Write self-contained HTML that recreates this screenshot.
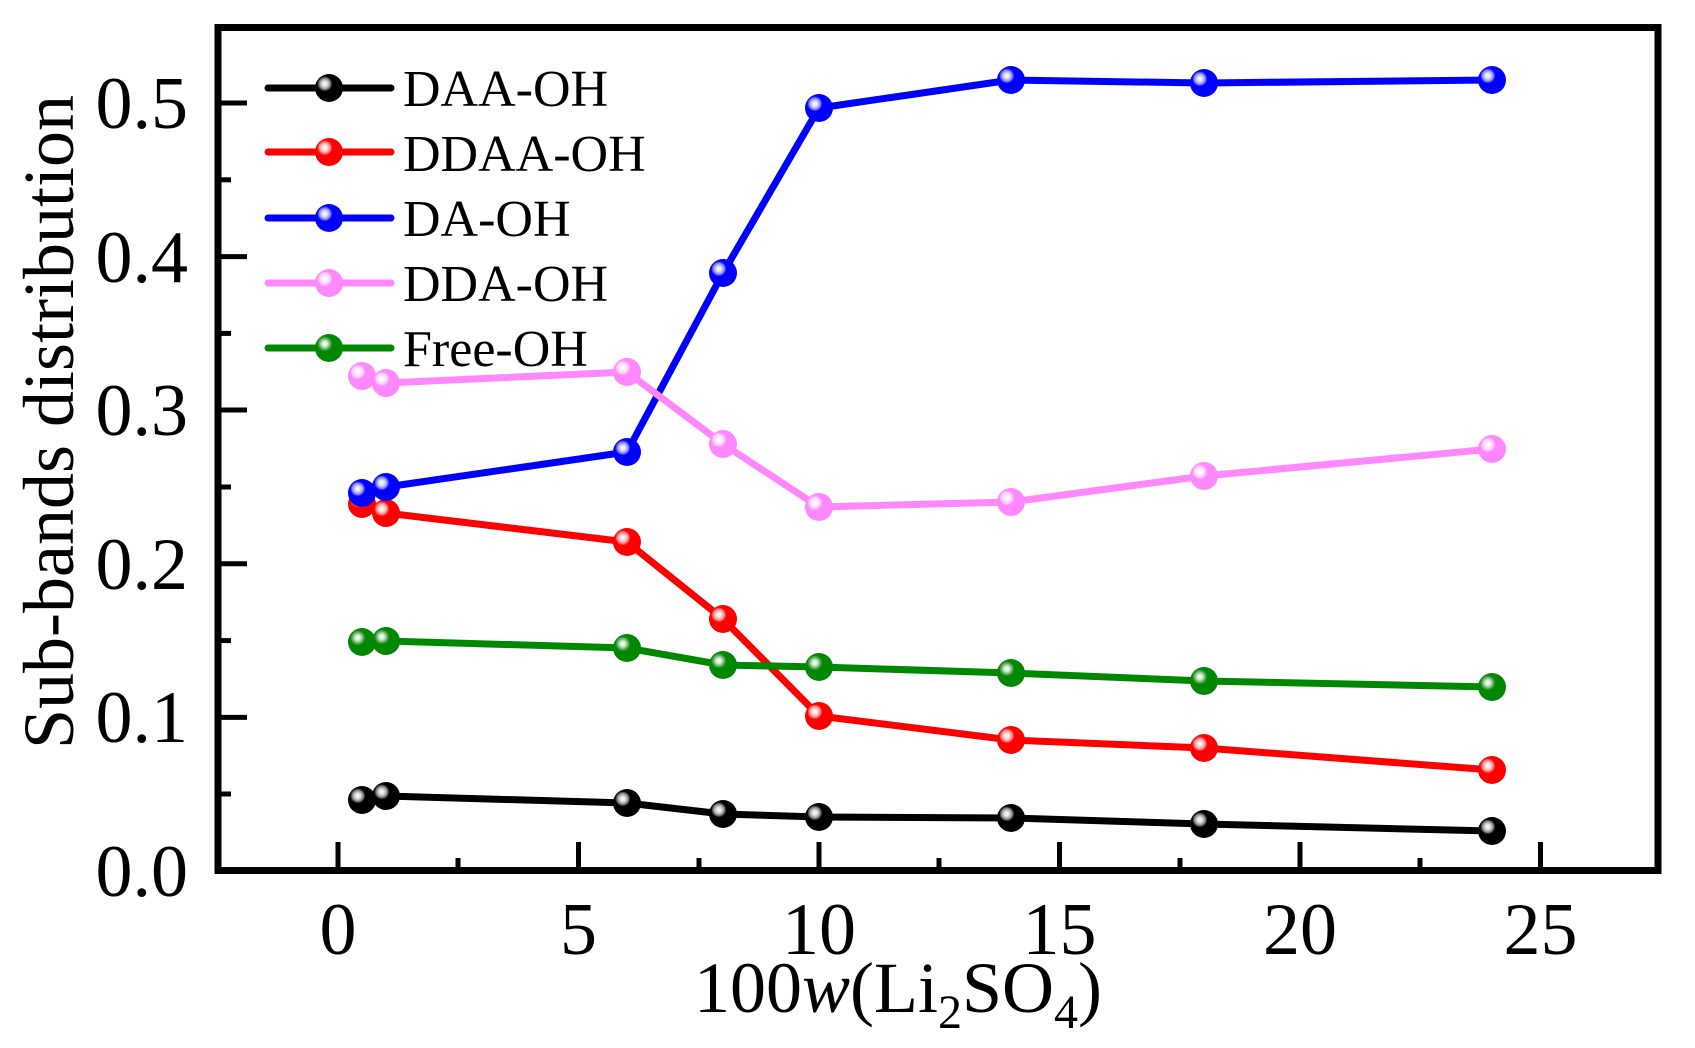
<!DOCTYPE html>
<html><head><meta charset="utf-8"><style>
html,body{margin:0;padding:0;background:#fff;}
svg{display:block;}
text{font-family:"Liberation Serif",serif;fill:#000;}
</style></head><body>
<svg width="1695" height="1048" viewBox="0 0 1695 1048" xmlns="http://www.w3.org/2000/svg">
<defs>
<radialGradient id="gk" cx="0.35" cy="0.35" r="0.65"><stop offset="0" stop-color="#fff"/><stop offset="0.15" stop-color="#ddd"/><stop offset="0.3" stop-color="#888"/><stop offset="0.42" stop-color="#000"/><stop offset="1" stop-color="#000"/></radialGradient>
<radialGradient id="gr" cx="0.35" cy="0.35" r="0.65"><stop offset="0" stop-color="#fff"/><stop offset="0.15" stop-color="#fdd"/><stop offset="0.3" stop-color="#f88"/><stop offset="0.42" stop-color="#f00"/><stop offset="1" stop-color="#f00"/></radialGradient>
<radialGradient id="gb" cx="0.35" cy="0.35" r="0.65"><stop offset="0" stop-color="#fff"/><stop offset="0.15" stop-color="#ddf"/><stop offset="0.3" stop-color="#88f"/><stop offset="0.42" stop-color="#00f"/><stop offset="1" stop-color="#00f"/></radialGradient>
<radialGradient id="gp" cx="0.35" cy="0.35" r="0.65"><stop offset="0" stop-color="#fff"/><stop offset="0.15" stop-color="#fef"/><stop offset="0.3" stop-color="#fcf"/><stop offset="0.42" stop-color="#f8f"/><stop offset="1" stop-color="#f8f"/></radialGradient>
<radialGradient id="gg" cx="0.35" cy="0.35" r="0.65"><stop offset="0" stop-color="#fff"/><stop offset="0.15" stop-color="#cec"/><stop offset="0.3" stop-color="#6a6"/><stop offset="0.42" stop-color="#080"/><stop offset="1" stop-color="#080"/></radialGradient>
</defs>
<g stroke="#000" stroke-width="5">
<line x1="338" y1="871" x2="338" y2="842"/>
<line x1="458" y1="871" x2="458" y2="858"/>
<line x1="578.5" y1="871" x2="578.5" y2="842"/>
<line x1="699" y1="871" x2="699" y2="858"/>
<line x1="819" y1="871" x2="819" y2="842"/>
<line x1="939" y1="871" x2="939" y2="858"/>
<line x1="1059.5" y1="871" x2="1059.5" y2="842"/>
<line x1="1180" y1="871" x2="1180" y2="858"/>
<line x1="1300" y1="871" x2="1300" y2="842"/>
<line x1="1420" y1="871" x2="1420" y2="858"/>
<line x1="1540.5" y1="871" x2="1540.5" y2="842"/>
<line x1="218" y1="794" x2="231" y2="794"/>
<line x1="218" y1="717.4" x2="247" y2="717.4"/>
<line x1="218" y1="640.6" x2="231" y2="640.6"/>
<line x1="218" y1="563.8" x2="247" y2="563.8"/>
<line x1="218" y1="487" x2="231" y2="487"/>
<line x1="218" y1="410" x2="247" y2="410"/>
<line x1="218" y1="333.4" x2="231" y2="333.4"/>
<line x1="218" y1="256.6" x2="247" y2="256.6"/>
<line x1="218" y1="179.8" x2="231" y2="179.8"/>
<line x1="218" y1="103" x2="247" y2="103"/>
</g>
<rect x="218" y="27.5" width="1440" height="843" fill="none" stroke="#000" stroke-width="7"/>
<g font-size="74" text-anchor="end">
<text x="188" y="896">0.0</text>
<text x="188" y="742">0.1</text>
<text x="188" y="589">0.2</text>
<text x="188" y="435">0.3</text>
<text x="188" y="282">0.4</text>
<text x="188" y="128">0.5</text>
</g>
<g font-size="74" text-anchor="middle">
<text x="338" y="954">0</text>
<text x="578.5" y="954">5</text>
<text x="819" y="954">10</text>
<text x="1059.5" y="954">15</text>
<text x="1300" y="954">20</text>
<text x="1540.5" y="954">25</text>
<text x="898" y="1012" font-size="72">100<tspan font-style="italic">w</tspan>(Li<tspan font-size="48" dy="16">2</tspan><tspan dy="-16">SO</tspan><tspan font-size="48" dy="16">4</tspan><tspan dy="-16">)</tspan></text>
<text transform="translate(73,422) rotate(-90)" font-size="72">Sub-bands distribution</text>
</g>
<g fill="none" stroke-width="7" stroke-linejoin="round">
<polyline stroke="#000" points="362,800 386,796 627,803 723,814 819,817 1011,818 1204,824 1492,831"/>
<polyline stroke="#f00" points="362,504 386,513 627,542 723,619 819,716 1011,740 1204,748 1492,770"/>
<polyline stroke="#00f" points="362,493 386,487 627,452 723,273 819,108 1011,80 1204,83 1492,80"/>
<polyline stroke="#f8f" points="362,376 386,383 627,372 723,444 819,507 1011,502 1204,476 1492,449"/>
<polyline stroke="#080" points="362,642 386,641 627,648 723,665 819,667 1011,673 1204,681 1492,687"/>
</g>
<g stroke="none">
<g fill="url(#gk)"><circle cx="362" cy="800" r="14"/><circle cx="386" cy="796" r="14"/><circle cx="627" cy="803" r="14"/><circle cx="723" cy="814" r="14"/><circle cx="819" cy="817" r="14"/><circle cx="1011" cy="818" r="14"/><circle cx="1204" cy="824" r="14"/><circle cx="1492" cy="831" r="14"/></g>
<g fill="url(#gr)"><circle cx="362" cy="504" r="14"/><circle cx="386" cy="513" r="14"/><circle cx="627" cy="542" r="14"/><circle cx="723" cy="619" r="14"/><circle cx="819" cy="716" r="14"/><circle cx="1011" cy="740" r="14"/><circle cx="1204" cy="748" r="14"/><circle cx="1492" cy="770" r="14"/></g>
<g fill="url(#gb)"><circle cx="362" cy="493" r="14"/><circle cx="386" cy="487" r="14"/><circle cx="627" cy="452" r="14"/><circle cx="723" cy="273" r="14"/><circle cx="819" cy="108" r="14"/><circle cx="1011" cy="80" r="14"/><circle cx="1204" cy="83" r="14"/><circle cx="1492" cy="80" r="14"/></g>
<g fill="url(#gp)"><circle cx="362" cy="376" r="14"/><circle cx="386" cy="383" r="14"/><circle cx="627" cy="372" r="14"/><circle cx="723" cy="444" r="14"/><circle cx="819" cy="507" r="14"/><circle cx="1011" cy="502" r="14"/><circle cx="1204" cy="476" r="14"/><circle cx="1492" cy="449" r="14"/></g>
<g fill="url(#gg)"><circle cx="362" cy="642" r="14"/><circle cx="386" cy="641" r="14"/><circle cx="627" cy="648" r="14"/><circle cx="723" cy="665" r="14"/><circle cx="819" cy="667" r="14"/><circle cx="1011" cy="673" r="14"/><circle cx="1204" cy="681" r="14"/><circle cx="1492" cy="687" r="14"/></g>
</g>
<g stroke-width="7" stroke-linecap="round">
<line x1="268" y1="88" x2="391" y2="88" stroke="#000"/>
<line x1="268" y1="152" x2="391" y2="152" stroke="#f00"/>
<line x1="268" y1="218" x2="391" y2="218" stroke="#00f"/>
<line x1="268" y1="283" x2="391" y2="283" stroke="#f8f"/>
<line x1="268" y1="348" x2="391" y2="348" stroke="#080"/>
</g>
<circle cx="329" cy="88" r="14" fill="url(#gk)"/>
<circle cx="329" cy="152" r="14" fill="url(#gr)"/>
<circle cx="329" cy="218" r="14" fill="url(#gb)"/>
<circle cx="329" cy="283" r="14" fill="url(#gp)"/>
<circle cx="329" cy="348" r="14" fill="url(#gg)"/>
<g font-size="52">
<text x="403" y="106">DAA-OH</text>
<text x="403" y="171">DDAA-OH</text>
<text x="403" y="236">DA-OH</text>
<text x="403" y="301">DDA-OH</text>
<text x="403" y="366">Free-OH</text>
</g>
</svg>
</body></html>
